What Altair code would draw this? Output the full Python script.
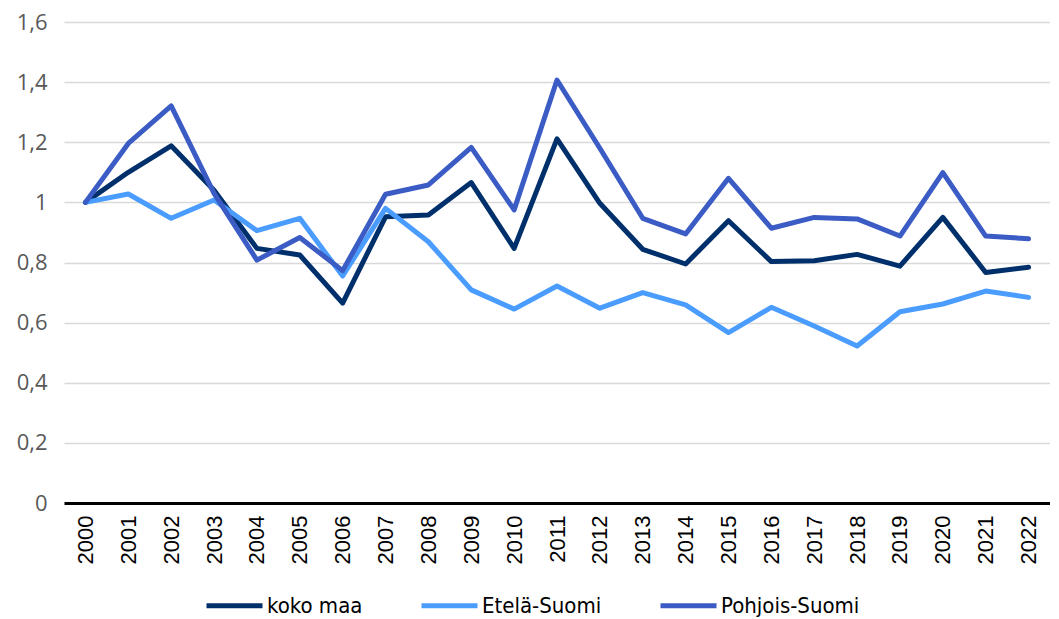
import altair as alt
import pandas as pd

years = [str(y) for y in range(2000, 2023)]
koko_maa = [1.0, 1.10, 1.188, 1.04, 0.847, 0.825, 0.665, 0.952, 0.958, 1.066, 0.847, 1.211,
            0.997, 0.844, 0.795, 0.939, 0.803, 0.806, 0.827, 0.788, 0.95, 0.767, 0.784]
etela_suomi = [1.0, 1.028, 0.947, 1.008, 0.906, 0.947, 0.755, 0.98, 0.869, 0.709, 0.645, 0.722,
               0.648, 0.70, 0.659, 0.567, 0.651, 0.589, 0.522, 0.636, 0.662, 0.705, 0.684]
pohjois_suomi = [1.0, 1.196, 1.321, 1.03, 0.808, 0.883, 0.773, 1.027, 1.058, 1.183, 0.975, 1.407,
                 1.18, 0.947, 0.895, 1.08, 0.914, 0.95, 0.945, 0.888, 1.099, 0.888, 0.879]
series_names = ["koko maa", "Etelä-Suomi", "Pohjois-Suomi"]
series_colors = ["#00306b", "#4a9cff", "#3b5cc4"]
y_ticks = [0, 0.2, 0.4, 0.6, 0.8, 1.0, 1.2, 1.4, 1.6]

rows = []
for name, vals in zip(series_names, [koko_maa, etela_suomi, pohjois_suomi]):
    for yr, v in zip(years, vals):
        rows.append({"vuosi": yr, "arvo": v, "sarja": name, "ord": series_names.index(name)})
df = pd.DataFrame(rows)

legend_font = "DejaVu Sans Condensed, Liberation Sans Narrow, Roboto, sans-serif"

chart = alt.Chart(df).mark_line(strokeWidth=5, strokeJoin="round", strokeCap="round").encode(
    x=alt.X("vuosi:O", sort=years,
            scale=alt.Scale(type="point", padding=0.5),
            axis=alt.Axis(title=None, labelAngle=-90, labelAlign="right", labelBaseline="middle",
                          labelFont="Liberation Sans", labelFontSize=22, labelColor="#000000",
                          labelPadding=12, ticks=False, domain=True, domainColor="#000000",
                          domainWidth=3, grid=False)),
    y=alt.Y("arvo:Q", scale=alt.Scale(domain=[0, 1.6], nice=False, zero=True),
            axis=alt.Axis(title=None, values=y_ticks,
                          labelExpr="replace(format(datum.value, '~g'), '.', ',')",
                          labelFont="Open Sans", labelFontSize=22, labelColor="#595959",
                          labelPadding=17, ticks=False, domain=False, grid=True,
                          gridColor="#d9d9d9", gridWidth=1.5)),
    color=alt.Color("sarja:N", sort=series_names,
                    scale=alt.Scale(domain=series_names, range=series_colors),
                    legend=alt.Legend(title=None, orient="none", direction="horizontal",
                                      legendX=140, legendY=553,
                                      symbolType="stroke", symbolSize=3136, symbolStrokeWidth=5,
                                      labelFont=legend_font, labelFontSize=22,
                                      labelColor="#000000", labelOffset=2, columnPadding=48)),
    order=alt.Order("ord:Q"),
).properties(
    width=986, height=481,
    padding={"left": 8, "top": 3, "right": 0, "bottom": 0},
).configure_view(stroke=None)

chart.save("out.html", embed_options={"renderer": "svg", "actions": False})
